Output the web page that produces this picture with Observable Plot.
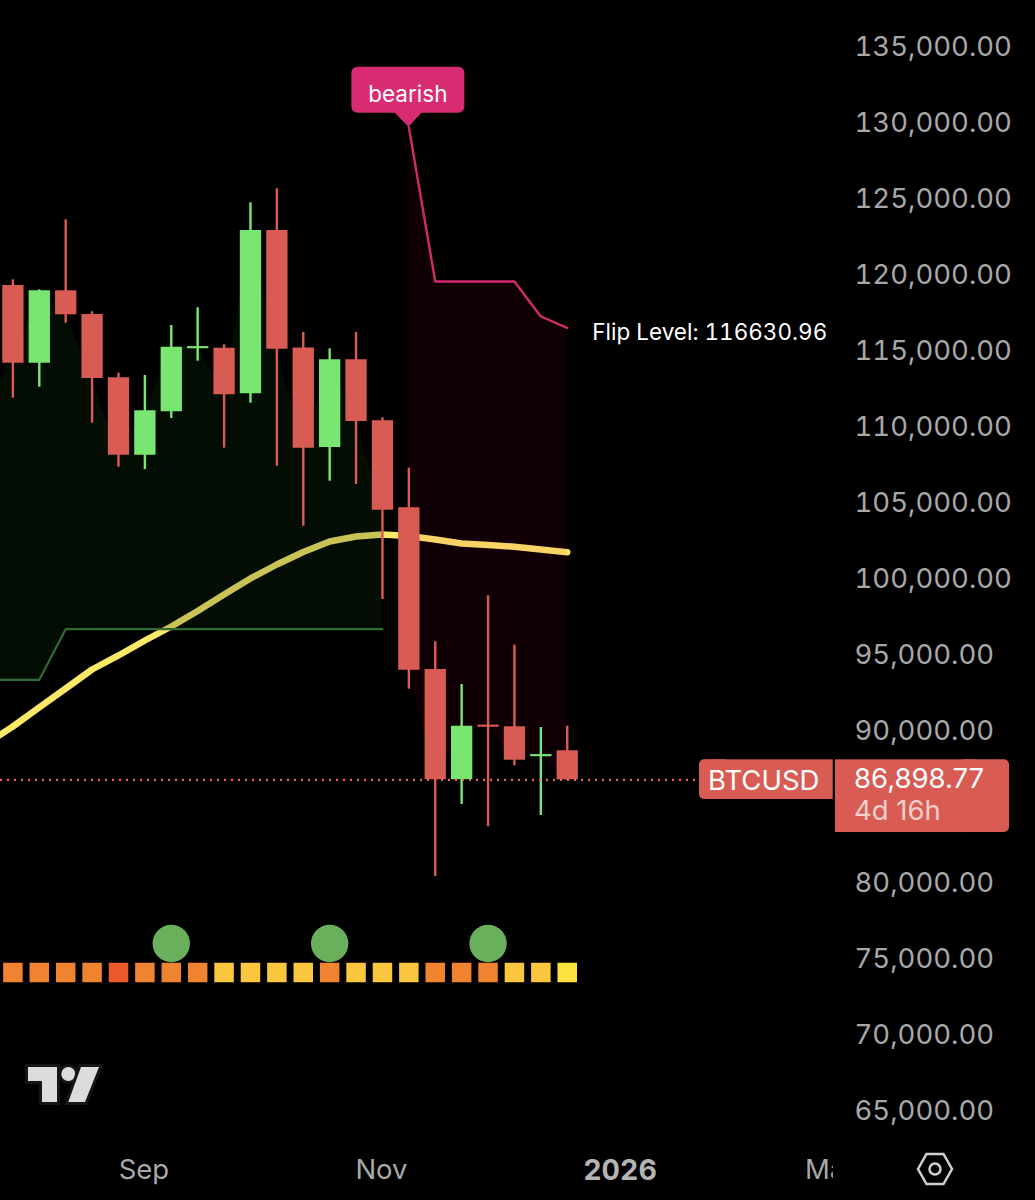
<!DOCTYPE html>
<html>
<head>
<meta charset="utf-8">
<script src="https://cdn.jsdelivr.net/npm/d3@7"></script>
<script src="https://cdn.jsdelivr.net/npm/@observablehq/plot@0.6"></script>
<style>
html,body{margin:0;padding:0;background:#000;}
svg{display:block;}
</style>
</head>
<body>
<div id="chart"></div>
<script>
// Weekly BTCUSD candles
const opens  = [119421,114310,119073,117514,113349,108257,111112,115260,115296,112296,123040,115310,108764,114533,110520,104796,94158,86900,90500,90389,88420,88810];
const highs  = [119796,119138,123744,117691,113652,113500,116790,117954,115520,124862,125783,116329,115257,116329,110717,107402,95981,93172,99007,95757,90342,90428];
const lows   = [112007,112731,116941,110362,107467,107316,110671,114441,108718,111678,107533,103586,106546,106329,98764,92863,80540,85277,83809,87823,84553,86850];
const closes = [114310,119073,117494,113303,108257,111178,115362,115400,112231,123040,115231,108718,114533,110474,104638,94113,86900,90428,90360,88191,88560,86898.77];
const lastPrice = 86898.77;
const prevClose = 111856;
// Moving average, one value per week starting one week before the first candle
const maValues = [89290,90408,91665,92908,94158,95080,96066,96987,98007,99093,100145,101066,101889,102579,102908,103040,102941,102711,102448,102349,102231,102053,101875];
// Flip levels
const bullFlip = [93481,93481,93481,96810,96810,96810,96810,96810,96810,96810,96810,96810,96810,96810,96810,96810];
const bearFlip = [129836,119685,119685,119685,119685,117382,116630.96];
// Bottom strip
const stripColors = ["#f0832f","#f0832f","#f0832f","#f0832f","#ec5a2b","#f0832f","#f0832f","#f0832f","#f9c63e","#f9c63e","#f9c63e","#f9c63e","#f0832f","#f9c63e","#f9c63e","#f9c63e","#f0832f","#f0832f","#f0832f","#f9c63e","#f9c63e","#fde13f"];
const stripLevel = 74224;
const signalLevel = 76132;
const signalWeeks = [6,12,18];
const priceTicks = [65000,70000,75000,80000,90000,95000,100000,105000,110000,115000,120000,125000,130000,135000];
const monthTicks = [new Date("2025-09-01"),new Date("2025-11-03"),new Date("2026-03-02")];
const yearTicks = [new Date("2026-01-05")];

const RED = "#d85c54", GREEN = "#7ae672", YELLOW = "#fde868";
const week = i => d3.utcMonday.offset(new Date("2025-07-28"), i);

const candles = opens.map((open,i) => ({date:week(i),open,high:highs[i],low:lows[i],close:closes[i],color:closes[i]>=open?GREEN:RED}));
const maRows = maValues.map((v,i) => ({date:week(i-1),v}));
const bullRows = bullFlip.map((flip,i) => ({date:week(i-1),flip,close:i===0?prevClose:closes[i-1]}));
const bearRows = bearFlip.map((flip,i) => ({date:week(i+15),flip,close:closes[i+15]}));
const stripRows = stripColors.map((color,i) => ({date:week(i),color}));

function chrome(index, scales) {
  const g = d3.create("svg:g").attr("font-family","Inter").attr("text-anchor","start");
  const py = scales.y(lastPrice);
  // price tags
  const tagTop = py - 20;
  g.append("rect").attr("x",699).attr("y",tagTop).attr("width",30).attr("height",39.7).attr("rx",5).attr("fill",RED);
  g.append("rect").attr("x",705).attr("y",tagTop).attr("width",127.7).attr("height",39.7).attr("fill",RED);
  g.append("rect").attr("x",835).attr("y",tagTop).attr("width",140).attr("height",72.7).attr("fill",RED);
  g.append("rect").attr("x",960).attr("y",tagTop).attr("width",49).attr("height",72.7).attr("rx",5).attr("fill",RED);
  g.append("text").attr("x",708).attr("y",py+10.5).attr("font-size",27.5).attr("fill","#fff").text("BTCUSD");
  g.append("text").attr("x",854).attr("y",py+9).attr("font-size",27.5).attr("fill","#fff").text("86,898.77");
  g.append("text").attr("x",854).attr("y",py+41).attr("font-size",27.5).attr("fill","#f4cfcc").text("4d 16h");
  // bearish callout, anchored to first flip level
  const cx = scales.x(week(15)), cy = scales.y(bearFlip[0]);
  g.append("path").attr("fill","#d82c72").attr("d",`M${cx-14.5},${cy-15}L${cx},${cy}L${cx+14},${cy-15}Z`);
  g.append("rect").attr("x",cx-57).attr("y",cy-60).attr("width",113).attr("height",46).attr("rx",6).attr("fill","#d82c72");
  g.append("text").attr("x",cx-0.5).attr("y",cy-24.5).attr("text-anchor","middle").attr("font-size",22.5).attr("fill","#fff").text("bearish");
  // logo
  const logo = g.append("g").attr("fill","#dcdcdc").attr("stroke","#151515").attr("stroke-width",6).attr("paint-order","stroke");
  logo.append("path").attr("d","M28,1067H57V1102H42V1081H28Z");
  logo.append("circle").attr("cx",68.3).attr("cy",1074).attr("r",7);
  logo.append("path").attr("d","M81,1067H99L85,1102H68.3Z");
  // settings icon
  g.append("path").attr("fill","none").attr("stroke","#d0d0d0").attr("stroke-width",2.5).attr("d","M918,1169L926.5,1154H943.5L952,1169L943.5,1184H926.5Z");
  g.append("circle").attr("cx",935).attr("cy",1169).attr("r",5.5).attr("fill","none").attr("stroke","#d0d0d0").attr("stroke-width",2.5);
  return g.node();
}

const plot = Plot.plot({
  width:1035, height:1200,
  marginLeft:0, marginTop:0, marginRight:181, marginBottom:40.6,
  style:{background:"#000", fontFamily:"Inter", overflow:"hidden"},
  x:{type:"utc", domain:[week(0),week(31)], range:[12.4,830.7]},
  y:{domain:[65000,135000], range:[1112.2,48.2]},
  marks:[
    Plot.line(maRows,{x:"date",y:"v",stroke:YELLOW,strokeWidth:6.5}),
    Plot.areaY(bullRows,{x:"date",y1:"flip",y2:"close",fill:"#103c10",fillOpacity:0.22}),
    Plot.areaY(bearRows,{x:"date",y1:"flip",y2:"close",fill:"#b4003c",fillOpacity:0.085}),
    Plot.line(bullRows,{x:"date",y:"flip",stroke:"#2f6b33",strokeWidth:2.2}),
    Plot.line(bearRows,{x:"date",y:"flip",stroke:"#cf2b6c",strokeWidth:2.4}),
    Plot.ruleX(candles,{x:"date",y1:"low",y2:"high",stroke:"color",strokeWidth:2.4}),
    Plot.ruleX(candles,{x:"date",y1:"open",y2:"close",stroke:"color",strokeWidth:21.3}),
    Plot.dot(signalWeeks.map(i => ({date:week(i)})),{x:"date",y:()=>signalLevel,r:18.7,fill:"#6ab05c"}),
    Plot.dot(stripRows,{x:"date",y:()=>stripLevel,symbol:"square",r:11,fill:"color"}),
    Plot.ruleY([lastPrice],{x1:()=>week(-1),x2:()=>week(26),stroke:"#e8655c",strokeWidth:2.2,strokeDasharray:"2,5"}),
    Plot.text([bearRows[bearRows.length-1]],{x:"date",y:"flip",text:d=>"Flip Level: "+d.flip,textAnchor:"start",dx:25,dy:5,fontSize:22.5,fontVariant:"tabular-nums",fill:"#fff"}),
    Plot.axisX(monthTicks,{anchor:"bottom",tickSize:0,tickPadding:0,tickFormat:d3.utcFormat("%b"),fontSize:27.5,fill:"#a8a8a8",dx:-1,label:null}),
    Plot.rect([{x1:d3.utcHour.offset(week(31),14),x2:week(36)}],{x1:"x1",x2:"x2",y1:()=>60000,y2:()=>64000,fill:"#000"}),
    Plot.axisX(yearTicks,{anchor:"bottom",tickSize:0,tickPadding:0,tickFormat:d3.utcFormat("%Y"),fontSize:28.5,fontWeight:"bold",fill:"#b4b4b4",label:null}),
    Plot.axisY(priceTicks,{anchor:"right",tickSize:0,tickPadding:0,tickFormat:d3.format(",.2f"),fontSize:27.5,fill:"#a8a8a8",dy:-1.2,label:null}),
    chrome
  ]
});
document.getElementById("chart").appendChild(plot);
</script>
</body>
</html>
